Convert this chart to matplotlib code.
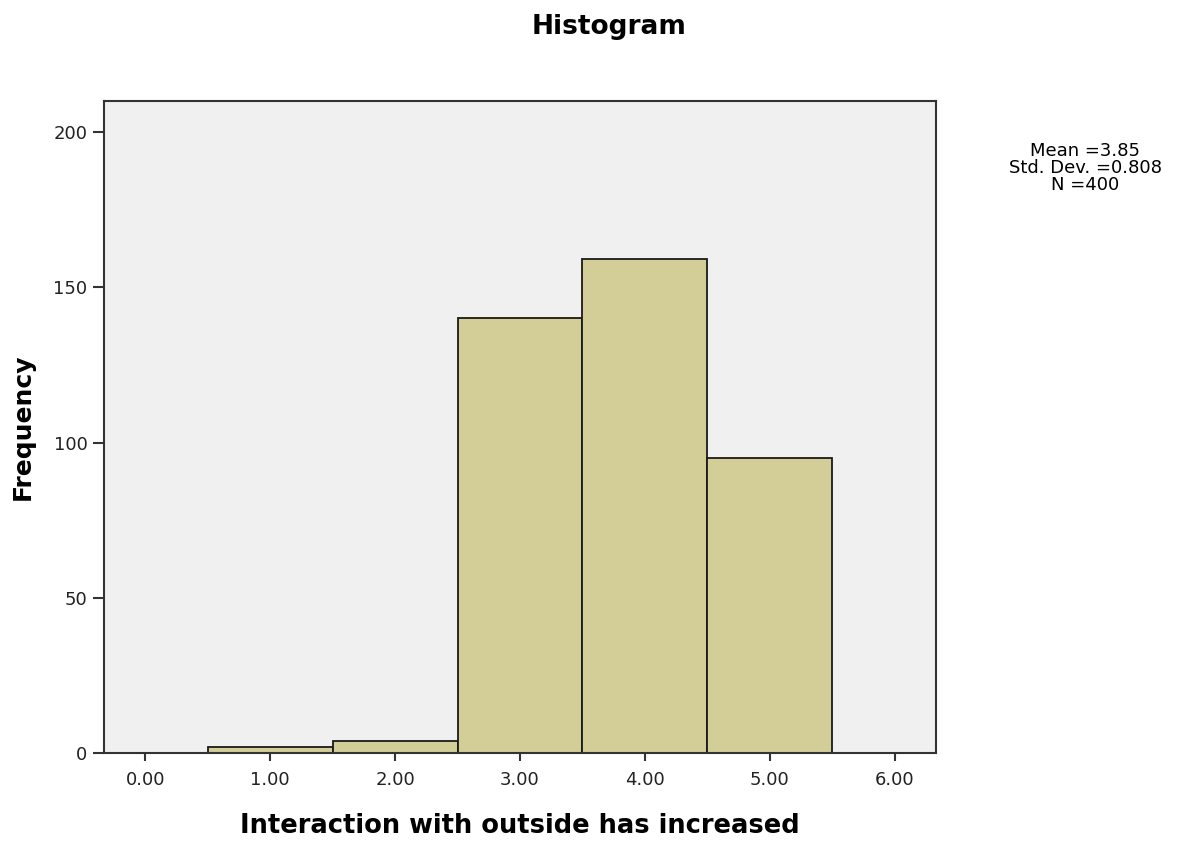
import matplotlib
matplotlib.use("Agg")
import matplotlib.pyplot as plt

bin_centers = [1, 2, 3, 4, 5]
counts = [2, 4, 140, 159, 95]
x_ticks = [0, 1, 2, 3, 4, 5, 6]
x_tick_labels = ["0.00", "1.00", "2.00", "3.00", "4.00", "5.00", "6.00"]
y_ticks = [0, 50, 100, 150, 200]
stats_lines = ["Mean =3.85", "Std. Dev. =0.808", "N =400"]

BAR_COLOR = "#d3cd97"
PLOT_BG = "#f0f0f0"
EDGE = "#1a1a1a"

fig = plt.figure(figsize=(11.81, 8.42), dpi=100)
ax = fig.add_axes([0.0881, 0.1057, 0.7044, 0.7743])
ax.set_facecolor(PLOT_BG)

ax.bar(bin_centers, counts, width=1.0, color=BAR_COLOR, edgecolor=EDGE, linewidth=1.3, zorder=2)

ax.set_xlim(-0.33, 6.33)
ax.set_ylim(0, 210)
ax.set_xticks(x_ticks)
ax.set_xticklabels(x_tick_labels, family="DejaVu Sans", fontsize=13, color="#222222")
ax.set_yticks(y_ticks)
ax.set_yticklabels([str(v) for v in y_ticks], family="DejaVu Sans", fontsize=13, color="#222222")
ax.tick_params(axis="x", direction="out", length=6, width=1.5, color="#333333", pad=7)
ax.tick_params(axis="y", direction="out", length=8, width=1.5, color="#333333", pad=4)

for s in ax.spines.values():
    s.set_color("#333333")
    s.set_linewidth(1.5)

ax.set_xlabel("Interaction with outside has increased", fontsize=18.5, fontweight="bold",
              family="DejaVu Sans", labelpad=17)
ax.set_ylabel("Frequency", fontsize=18, fontweight="bold", family="DejaVu Sans", labelpad=13)

fig.text(0.516, 0.968, "Histogram", ha="center", va="center", fontsize=19,
         fontweight="bold", family="DejaVu Sans")
fig.text(0.919, 0.8005, "\n".join(stats_lines), ha="center", va="center", fontsize=13,
         family="DejaVu Sans", linespacing=0.92)

fig.savefig("out.png", dpi=100, facecolor="white")
